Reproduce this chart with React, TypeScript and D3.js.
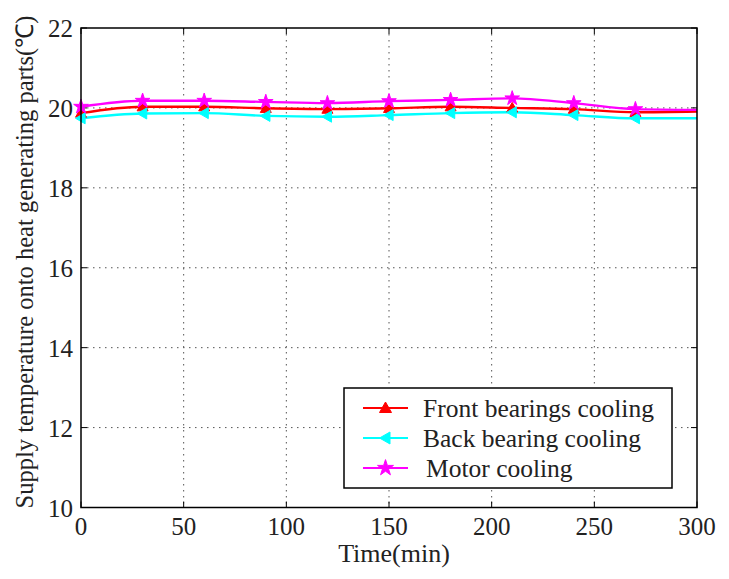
import React from "react";
import * as d3 from "d3";

const times = [0, 30, 60, 90, 120, 150, 180, 210, 240, 270, 300];
const frontBearings = [19.87, 20.03, 20.03, 19.99, 19.97, 19.99, 20.03, 20.0, 19.97, 19.89, 19.91];
const backBearing = [19.74, 19.86, 19.87, 19.8, 19.78, 19.82, 19.87, 19.89, 19.82, 19.74, 19.74];
const motor = [20.03, 20.18, 20.18, 20.15, 20.12, 20.17, 20.2, 20.24, 20.12, 19.97, 19.95];
const markerTimes = [0, 30, 60, 90, 120, 150, 180, 210, 240, 270];
const xTicks = [0, 50, 100, 150, 200, 250, 300];
const yTicks = [10, 12, 14, 16, 18, 20, 22];
const seriesNames = ["Front bearings cooling", "Back bearing cooling", "Motor cooling"];

const W = 729, H = 579;
const L = 81, R = 697, T = 28, B = 507.5;

const x = d3.scaleLinear().domain([0, 300]).range([L, R]);
const y = d3.scaleLinear().domain([10, 22]).range([B, T]);

const series = [
  { name: seriesNames[0], values: frontBearings, color: "#ff0000", marker: "up" },
  { name: seriesNames[1], values: backBearing, color: "#00ffff", marker: "left" },
  { name: seriesNames[2], values: motor, color: "#ff00ff", marker: "star" },
];

function markerPath(kind: string, s: number) {
  if (kind === "up") return `M0,${-s}L${s},${s * 0.75}L${-s},${s * 0.75}Z`;
  if (kind === "left") return `M${-s},0L${s * 0.75},${-s}L${s * 0.75},${s}Z`;
  return d3.symbol(d3.symbolStar, s * s * 2.2)() || "";
}

export default function App() {
  const font = "'Liberation Serif', 'Times New Roman', serif";
  return (
    <svg width={W} height={H} style={{ position: "absolute", left: 0, top: 0, background: "#fff" }}>
      <rect x={0} y={0} width={W} height={H} fill="#fff" />
      {xTicks.slice(1, -1).map((t) => (
        <line key={"gx" + t} x1={x(t)} x2={x(t)} y1={T} y2={B} stroke="#555" strokeWidth={1} strokeDasharray="1.5,4.5" />
      ))}
      {yTicks.slice(1, -1).map((t) => (
        <line key={"gy" + t} x1={L} x2={R} y1={y(t)} y2={y(t)} stroke="#555" strokeWidth={1} strokeDasharray="1.5,4.5" />
      ))}
      {xTicks.map((t) => (
        <g key={"tx" + t}>
          <line x1={x(t)} x2={x(t)} y1={B} y2={B - 6} stroke="#000" />
          <line x1={x(t)} x2={x(t)} y1={T} y2={T + 6} stroke="#000" />
          <text x={x(t)} y={535} textAnchor="middle" fontFamily={font} fontSize={25} fill="#222">{t}</text>
        </g>
      ))}
      {yTicks.map((t) => (
        <g key={"ty" + t}>
          <line x1={L} x2={L + 6} y1={y(t)} y2={y(t)} stroke="#000" />
          <line x1={R} x2={R - 6} y1={y(t)} y2={y(t)} stroke="#000" />
          <text x={73} y={y(t) + 9} textAnchor="end" fontFamily={font} fontSize={25} fill="#222">{t}</text>
        </g>
      ))}
      {series.map((s) => {
        const line = d3.line<number>().x((_, i) => x(times[i])).y((v) => y(v)).curve(d3.curveMonotoneX);
        return <path key={s.name} d={line(s.values) || ""} fill="none" stroke={s.color} strokeWidth={2.4} />;
      })}
      {series.map((s) =>
        markerTimes.map((t) => {
          const i = times.indexOf(t);
          return (
            <path key={s.name + t} d={markerPath(s.marker, 5.5)} transform={`translate(${x(t)},${y(s.values[i])})`} fill={s.color} stroke={s.color} strokeWidth={1} />
          );
        })
      )}
      <rect x={L} y={T} width={R - L} height={B - T} fill="none" stroke="#000" strokeWidth={1.5} />
      <rect x={344} y={388} width={328} height={100} fill="#fff" stroke="#000" strokeWidth={1.5} />
      {series.map((s, i) => {
        const ly = 408 + i * 30;
        return (
          <g key={"lg" + i}>
            <line x1={363} x2={408} y1={ly} y2={ly} stroke={s.color} strokeWidth={2} />
            <path d={markerPath(s.marker, 6)} transform={`translate(385.5,${ly})`} fill={s.color} stroke={s.color} />
            <text x={i === 2 ? 426 : 423} y={ly + 9} fontFamily={font} fontSize={25.5} fill="#222">{s.name}</text>
          </g>
        );
      })}
      <text x={394} y={562} textAnchor="middle" fontFamily={font} fontSize={26} fill="#222">Time(min)</text>
      <text transform="translate(33,262) rotate(-90)" textAnchor="middle" fontFamily={font} fontSize={24.5} fill="#222">Supply temperature onto heat generating parts(℃)</text>
    </svg>
  );
}
